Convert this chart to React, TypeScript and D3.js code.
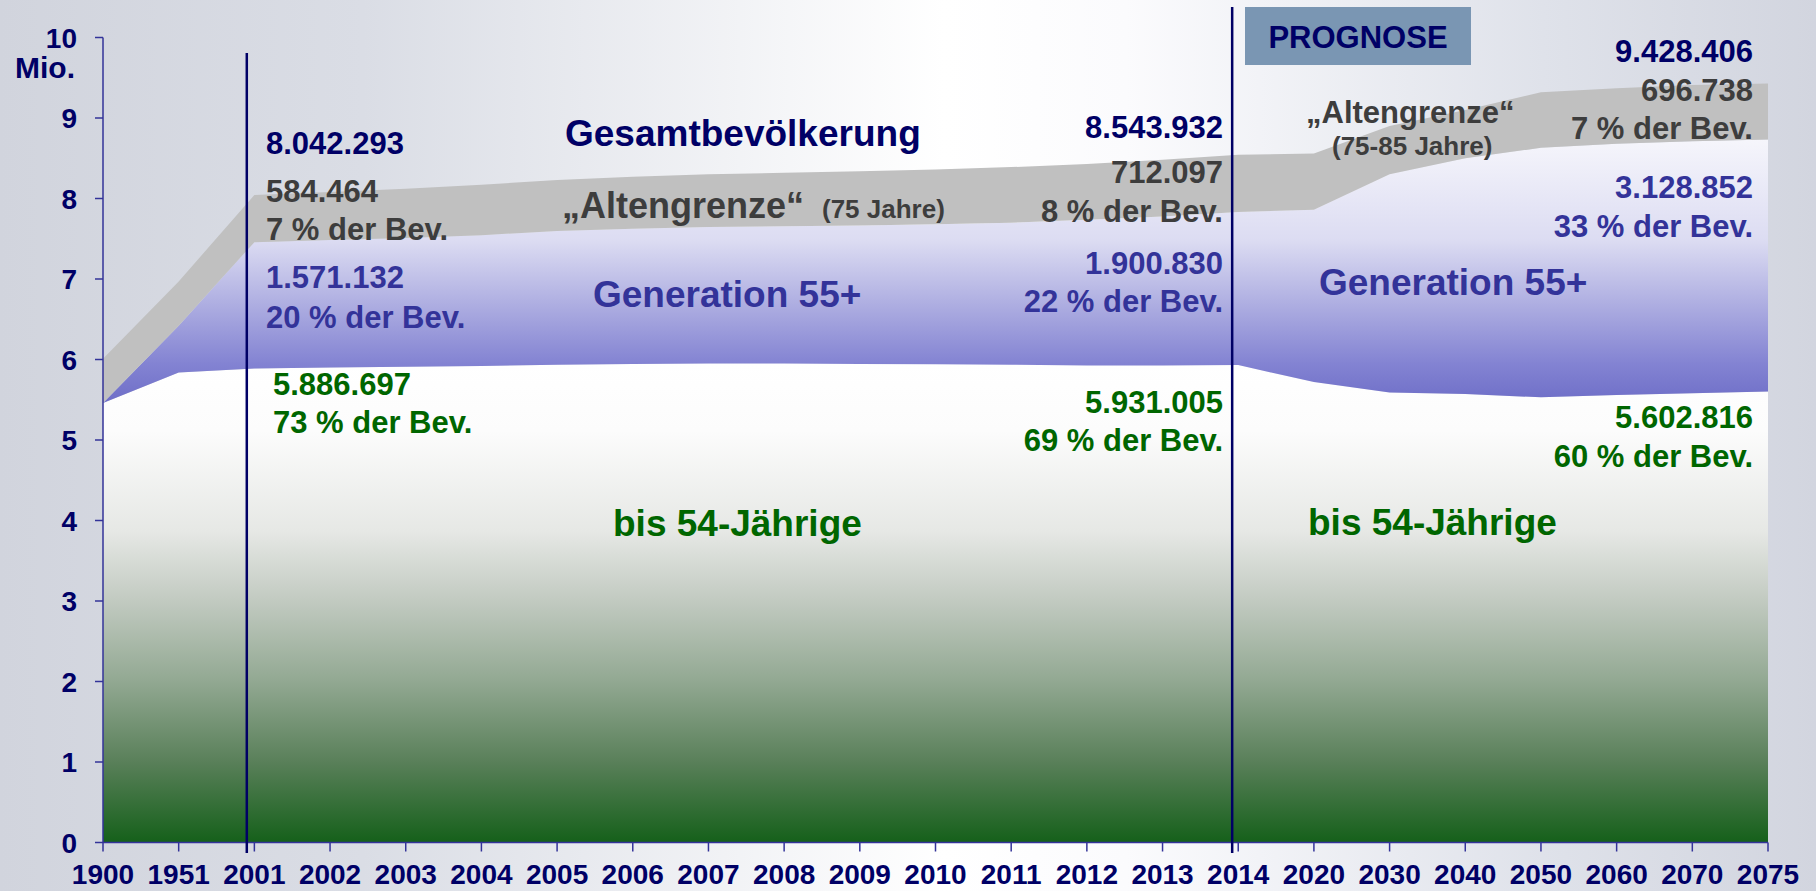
import React from "react";
import * as d3 from "d3";

const years = ["1900","1951","2001","2002","2003","2004","2005","2006","2007","2008","2009","2010","2011","2012","2013","2014","2020","2030","2040","2050","2060","2070","2075"];
// Mio. persons per layer
const under55 = [5.46, 5.84, 5.887, 5.90, 5.91, 5.92, 5.935, 5.945, 5.95, 5.95, 5.945, 5.94, 5.935, 5.925, 5.925, 5.931, 5.72, 5.59, 5.57, 5.53, 5.56, 5.58, 5.603];
const gen55 = [0.0, 0.58, 1.571, 1.585, 1.60, 1.625, 1.66, 1.68, 1.695, 1.705, 1.72, 1.74, 1.765, 1.81, 1.85, 1.901, 2.14, 2.71, 2.93, 3.10, 3.12, 3.13, 3.129];
const alt75 = [0.55, 0.55, 0.584, 0.595, 0.61, 0.625, 0.635, 0.645, 0.655, 0.665, 0.675, 0.68, 0.69, 0.695, 0.705, 0.712, 0.70, 0.60, 0.60, 0.69, 0.69, 0.70, 0.697];
const yTicks = [0, 1, 2, 3, 4, 5, 6, 7, 8, 9, 10];
const markerYears = ["2001", "2014"];

const FONT = "'Liberation Sans', Arial, Helvetica, sans-serif";
const NAVY = "#000066";
const GRAY = "#3d3d3d";
const BLUE = "#333399";
const GREEN = "#006600";

export default function App() {
  const W = 1816, H = 891;
  const x = d3.scalePoint<string>().domain(years).range([103, 1768]);
  const y = d3.scaleLinear().domain([0, 10]).range([842.5, 37.5]);
  const step = x.step();

  const rows = years.map((yr, i) => ({ year: yr, a: under55[i], b: gen55[i], c: alt75[i] }));
  const series = d3.stack<any>().keys(["a", "b", "c"])(rows);
  const area = d3.area<any>()
    .x((d) => x(d.data.year) as number)
    .y0((d) => y(d[0]))
    .y1((d) => y(d[1]))
    .curve(d3.curveLinear);

  const fills = ["url(#gGreen)", "url(#gBlue)", "#c0c0c0"];

  const t = (txt: string, xx: number, yy: number, color: string, size: number, anchor: string = "start", extra: any = {}) => (
    <text x={xx} y={yy} fill={color} fontSize={size} fontWeight="bold" textAnchor={anchor} fontFamily={FONT} {...extra}>{txt}</text>
  );

  return (
    <svg width={W} height={H} style={{ position: "absolute", left: 0, top: 0, display: "block" }}>
      <defs>
        <linearGradient id="bg" x1="0" y1="0" x2="1" y2="0">
          <stop offset="0" stopColor="#d1d4dd" />
          <stop offset="0.2" stopColor="#dadde5" />
          <stop offset="0.52" stopColor="#ffffff" />
          <stop offset="0.62" stopColor="#fbfbfd" />
          <stop offset="0.85" stopColor="#dfe2ea" />
          <stop offset="1" stopColor="#d2d5df" />
        </linearGradient>
        <linearGradient id="gGreen" gradientUnits="userSpaceOnUse" x1="0" y1={y(5.95)} x2="0" y2={y(0)}>
          <stop offset="0" stopColor="#ffffff" />
          <stop offset="0.14" stopColor="#fcfcfc" />
          <stop offset="0.35" stopColor="#e6e8e5" />
          <stop offset="0.49" stopColor="#c3cbc2" />
          <stop offset="0.66" stopColor="#93a993" />
          <stop offset="0.83" stopColor="#5a805a" />
          <stop offset="1" stopColor="#15601a" />
        </linearGradient>
        <linearGradient id="gBlue" gradientUnits="userSpaceOnUse" x1="0" y1={y(8.8)} x2="0" y2={y(5.5)}>
          <stop offset="0" stopColor="#f7f7fc" />
          <stop offset="0.4" stopColor="#dcdcf2" />
          <stop offset="0.63" stopColor="#b0b0e2" />
          <stop offset="0.87" stopColor="#8282d2" />
          <stop offset="1" stopColor="#7070c8" />
        </linearGradient>
      </defs>
      <rect x={0} y={0} width={W} height={H} fill="url(#bg)" />

      {series.map((s, i) => (
        <path key={i} d={area(s as any) as string} fill={fills[i]} />
      ))}

      {/* y axis */}
      <line x1={103} x2={103} y1={y(10)} y2={y(0)} stroke="#333399" strokeWidth={1.5} />
      {yTicks.map((v) => (
        <g key={v}>
          <line x1={95} x2={103} y1={y(v)} y2={y(v)} stroke="#333399" strokeWidth={1.5} />
          {t(String(v), 77, y(v) + 10, NAVY, 28, "end")}
        </g>
      ))}
      {t("Mio.", 75, 78, NAVY, 30, "end")}

      {/* x axis */}
      <line x1={103} x2={1768} y1={y(0)} y2={y(0)} stroke="#333399" strokeWidth={1.5} />
      {years.map((yr) => (
        <g key={yr}>
          <line x1={x(yr)} x2={x(yr)} y1={y(0)} y2={y(0) + 9} stroke="#333399" strokeWidth={1.5} />
          {t(yr, x(yr) as number, 884, NAVY, 28, "middle")}
        </g>
      ))}

      {/* marker lines */}
      <line x1={(x(markerYears[0]) as number) - step * 0.1} x2={(x(markerYears[0]) as number) - step * 0.1} y1={53} y2={853} stroke={NAVY} strokeWidth={2.5} />
      <line x1={(x(markerYears[1]) as number) - step * 0.08} x2={(x(markerYears[1]) as number) - step * 0.08} y1={7} y2={853} stroke={NAVY} strokeWidth={2.5} />

      {/* PROGNOSE box */}
      <rect x={1245} y={7} width={226} height={58} fill="#7a96b3" />
      {t("PROGNOSE", 1358, 48, NAVY, 31, "middle")}

      {/* left values (2001) */}
      {t("8.042.293", 266, 154, NAVY, 31)}
      {t("584.464", 266, 202, GRAY, 31)}
      {t("7 % der Bev.", 266, 240, GRAY, 31)}
      {t("1.571.132", 266, 288, BLUE, 31)}
      {t("20 % der Bev.", 266, 328, BLUE, 31)}
      {t("5.886.697", 273, 395, GREEN, 31)}
      {t("73 % der Bev.", 273, 433, GREEN, 31)}

      {/* middle values (2014) */}
      {t("8.543.932", 1223, 138, NAVY, 31, "end")}
      {t("712.097", 1223, 183, GRAY, 31, "end")}
      {t("8 % der Bev.", 1223, 222, GRAY, 31, "end")}
      {t("1.900.830", 1223, 274, BLUE, 31, "end")}
      {t("22 % der Bev.", 1223, 312, BLUE, 31, "end")}
      {t("5.931.005", 1223, 413, GREEN, 31, "end")}
      {t("69 % der Bev.", 1223, 451, GREEN, 31, "end")}

      {/* right values (2075) */}
      {t("9.428.406", 1753, 62, NAVY, 31, "end")}
      {t("696.738", 1753, 101, GRAY, 31, "end")}
      {t("7 % der Bev.", 1753, 139, GRAY, 31, "end")}
      {t("3.128.852", 1753, 198, BLUE, 31, "end")}
      {t("33 % der Bev.", 1753, 237, BLUE, 31, "end")}
      {t("5.602.816", 1753, 428, GREEN, 31, "end")}
      {t("60 % der Bev.", 1753, 467, GREEN, 31, "end")}

      {/* layer names */}
      {t("Gesamtbevölkerung", 565, 146, NAVY, 37)}
      {t("„Altengrenze“", 562, 218, GRAY, 36)}
      {t("(75 Jahre)", 822, 218, GRAY, 26)}
      {t("Generation 55+", 593, 307, BLUE, 37)}
      {t("bis 54-Jährige", 613, 536, GREEN, 37)}

      {t("„Altengrenze“", 1306, 123, GRAY, 31)}
      {t("(75-85 Jahre)", 1332, 155, GRAY, 26)}
      {t("Generation 55+", 1319, 295, BLUE, 37)}
      {t("bis 54-Jährige", 1308, 535, GREEN, 37)}
    </svg>
  );
}
